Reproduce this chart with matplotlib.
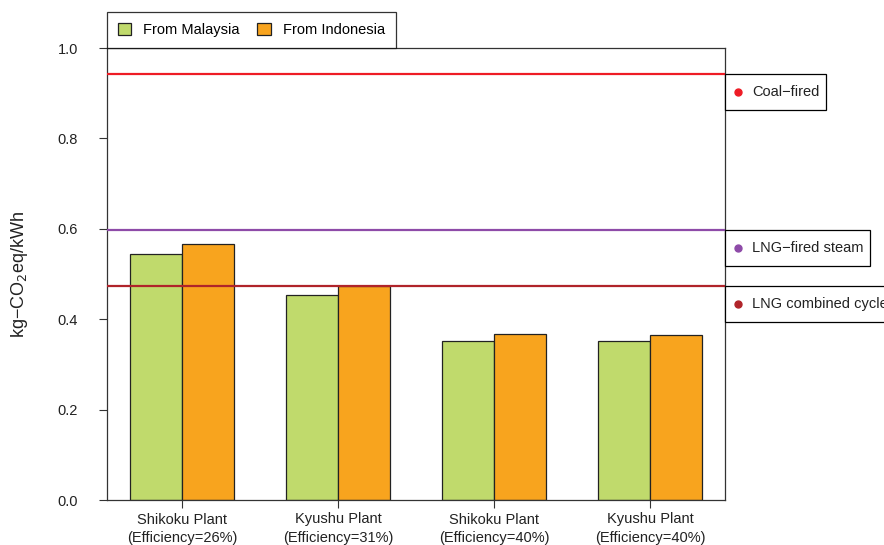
import numpy as np
import matplotlib
matplotlib.use("Agg")
import matplotlib.pyplot as plt
from matplotlib.patches import Rectangle
from matplotlib.transforms import blended_transform_factory

plt.rcParams['font.family'] = ['Liberation Sans', 'DejaVu Sans']

# data
plants = ["Shikoku Plant\n(Efficiency=26%)", "Kyushu Plant\n(Efficiency=31%)",
          "Shikoku Plant\n(Efficiency=40%)", "Kyushu Plant\n(Efficiency=40%)"]
malaysia = [0.544, 0.454, 0.352, 0.351]
indonesia = [0.566, 0.473, 0.367, 0.364]
ref_names = ["Coal−fired", "LNG−fired steam", "LNG combined cycle"]
ref_values = [0.942, 0.598, 0.474]
ref_colors = ["#EE1C25", "#8E4BA8", "#B0242A"]

green = "#C0DA6C"
orange = "#F8A41E"

fig = plt.figure(figsize=(8.84, 5.45), dpi=100)
ax = fig.add_axes([107 / 884, 45 / 545, 618 / 884, 452 / 545])

x = np.arange(1, len(plants) + 1)
w = 1 / 3
ax.bar(x - w / 2, malaysia, w, color=green, edgecolor="#222222", linewidth=0.9,
       label="From Malaysia", zorder=2)
ax.bar(x + w / 2, indonesia, w, color=orange, edgecolor="#222222", linewidth=0.9,
       label="From Indonesia", zorder=2)

# reference lines for other power sources
for v, c in zip(ref_values, ref_colors):
    ax.axhline(v, color=c, linewidth=1.6, zorder=3)

ax.set_xlim(0.52, 4.48)
ax.set_ylim(0, 1.0)
ax.set_yticks([0, 0.2, 0.4, 0.6, 0.8, 1.0])
ax.set_yticklabels(["0.0", "0.2", "0.4", "0.6", "0.8", "1.0"])
ax.set_xticks(x)
ax.set_xticklabels(plants, linespacing=1.4)
ax.tick_params(axis='both', labelsize=10.5, length=6, width=0.8, color="#333333",
               labelcolor="#222222")
ax.tick_params(axis='y', pad=15)
ax.tick_params(axis='x', pad=3)
for s in ax.spines.values():
    s.set_linewidth(0.9)
    s.set_color("#333333")
ax.set_ylabel("kg−CO$_2$eq/kWh", fontsize=13, labelpad=20, color="#222222")

# legend on top
leg = ax.legend(loc='lower left', bbox_to_anchor=(0, 1), ncol=2, frameon=True,
                fancybox=False, borderaxespad=0, fontsize=10.5,
                handlelength=0.9, handleheight=0.9, handletextpad=0.85,
                columnspacing=1.2, borderpad=0.75)
leg.get_frame().set_edgecolor("black")
leg.get_frame().set_linewidth(0.9)

# reference labels on the right
tr = blended_transform_factory(ax.transAxes, ax.transData)
box_h = 36 / 452
box_w = [101 / 618, 145 / 618, 175 / 618]
for name, v, c, bw in zip(ref_names, ref_values, ref_colors, box_w):
    ax.add_patch(Rectangle((1.0, v - box_h), bw, box_h, transform=tr,
                           facecolor="white", edgecolor="black", linewidth=0.9,
                           clip_on=False, zorder=4))
    ax.plot([1.021], [v - box_h / 2], 'o', color=c, markersize=5,
            transform=tr, clip_on=False, zorder=5)
    ax.text(1.044, v - box_h / 2, name, transform=tr, fontsize=10.5,
            va='center', ha='left', color="#222222", zorder=5)

fig.savefig("out.png", dpi=100)
